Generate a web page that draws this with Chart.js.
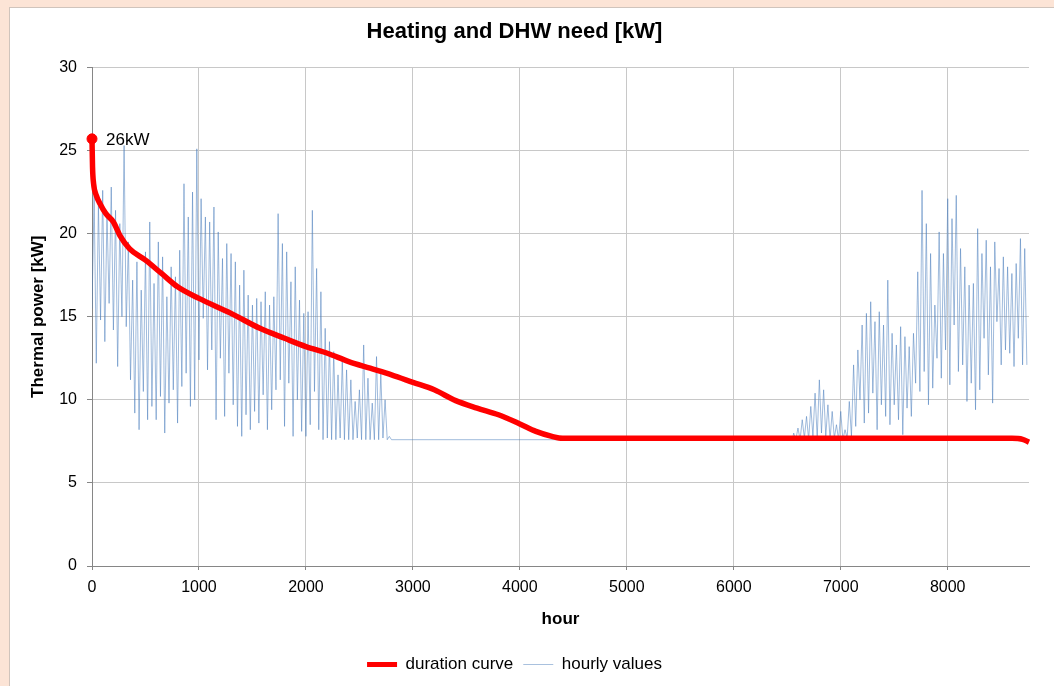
<!DOCTYPE html>
<html>
<head>
<meta charset="UTF-8">
<title>Heating and DHW need</title>
<script src="https://cdn.jsdelivr.net/npm/chart.js@4.4.7/dist/chart.umd.min.js"></script>
<style>
*{margin:0;padding:0;box-sizing:border-box}
html,body{width:1054px;height:686px;overflow:hidden;background:#fce4d6}
.panel{position:absolute;left:9px;top:7px;right:-2px;bottom:-2px;background:#fff;border-left:1px solid #d0c4bc;border-top:1px solid #d0c4bc}
#ch{position:absolute;left:0;top:0}
</style>
</head>
<body>
<div class="panel"></div>
<canvas id="ch" width="1054" height="686"></canvas>
<script>
// duration curve (sorted hourly need)
var durationHours = [0, 5, 15, 40, 75, 130, 200, 260, 350, 500, 650, 800, 1000, 1300, 1570, 1800, 2000, 2200, 2400, 2600, 2800, 3000, 3200, 3400, 3600, 3800, 4000, 4150, 4300, 4400, 8600, 8700, 8760];
var durationKw    = [25.7, 24.0, 23.0, 22.3, 21.8, 21.2, 20.7, 19.9, 19.1, 18.4, 17.6, 16.8, 16.1, 15.2, 14.3, 13.7, 13.2, 12.8, 12.3, 11.9, 11.5, 11.05, 10.6, 9.95, 9.5, 9.1, 8.55, 8.1, 7.8, 7.68, 7.68, 7.62, 7.45];

// hourly values (peaks / troughs)
var hourlyHours = [
  0, 20, 40, 60, 80, 100, 120, 140, 160, 180, 200, 220, 240, 260, 280, 300, 320, 340, 360, 380,
  400, 420, 440, 460, 480, 500, 520, 540, 560, 580, 600, 620, 640, 660, 680, 700, 720, 740, 760, 780,
  800, 820, 840, 860, 880, 900, 920, 940, 960, 980, 1000,
  1020, 1040, 1060, 1080, 1100, 1120, 1140, 1160, 1180, 1200, 1220, 1240, 1260, 1280, 1300, 1320, 1340, 1360, 1380, 1400,
  1420, 1440, 1460, 1480, 1500, 1520, 1540, 1560, 1580, 1600, 1620, 1640, 1660, 1680, 1700, 1720, 1740, 1760, 1780, 1800,
  1820, 1840, 1860, 1880, 1900, 1920, 1940, 1960, 1980, 2000,
  2020, 2040, 2060, 2080, 2100, 2120, 2140, 2160, 2180, 2200, 2220, 2240, 2260, 2280, 2300, 2320, 2340, 2360, 2380, 2400,
  2420, 2440, 2460, 2480, 2500, 2520, 2540, 2560, 2580, 2600, 2620, 2640, 2660, 2680, 2700, 2720, 2740, 2760, 2780, 2800,
  3150, 6550,
  6560, 6580, 6600, 6620, 6640, 6660, 6680, 6700, 6720, 6740, 6760, 6780, 6800, 6820, 6840, 6860, 6880, 6900, 6920, 6940,
  6960, 6980, 7000, 7020, 7040, 7060, 7080, 7100, 7120, 7140, 7160, 7180, 7200, 7220, 7240, 7260, 7280, 7300, 7320, 7340,
  7360, 7380, 7400, 7420, 7440, 7460, 7480, 7500, 7520, 7540, 7560, 7580, 7600, 7620, 7640, 7660, 7680, 7700, 7720, 7740,
  7760, 7780, 7800, 7820, 7840, 7860, 7880, 7900, 7920, 7940, 7960, 7980, 8000, 8020, 8040, 8060, 8080, 8100, 8120, 8140,
  8160, 8180, 8200, 8220, 8240, 8260, 8280, 8300, 8320, 8340, 8360, 8380, 8400, 8420, 8440, 8460, 8480, 8500, 8520, 8540,
  8560, 8580, 8600, 8620, 8640, 8660, 8680, 8700, 8720, 8740
];
var hourlyKw = [
  15.5, 22.3, 12.2, 21.8, 14.8, 22.6, 13.5, 21.2, 15.8, 22.8, 14.2, 21.4, 12.0, 20.6, 15.0, 25.3, 14.4, 19.5, 11.2, 17.2,
  9.2, 18.3, 8.2, 16.6, 10.5, 18.9, 8.8, 20.7, 9.6, 17.0, 8.8, 19.5, 10.2, 18.6, 8.0, 16.2, 9.8, 18.0, 10.6, 17.4,
  8.6, 19.0, 10.8, 23.0, 11.6, 21.0, 9.6, 22.5, 10.0, 25.1, 12.4,
  22.1, 14.9, 21.0, 11.8, 20.7, 13.0, 21.6, 8.8, 20.1, 12.5, 18.5, 9.0, 19.4, 11.6, 18.8, 9.7, 18.3, 8.4, 16.9, 7.8,
  17.8, 9.1, 16.3, 8.2, 15.7, 9.3, 16.1, 8.6, 15.9, 10.3, 16.5, 8.2, 15.7, 9.4, 16.2, 10.6, 21.2, 11.2, 19.4, 8.4,
  18.9, 11.0, 17.1, 7.8, 18.0, 10.0, 16.0, 8.1, 15.2, 7.8,
  15.3, 8.5, 21.4, 10.5, 17.9, 8.2, 16.5, 7.6, 14.3, 7.7, 13.5, 7.6, 12.9, 7.6, 11.5, 7.7, 12.4, 7.6, 11.8, 7.6,
  11.2, 7.6, 9.9, 7.7, 10.6, 7.6, 13.3, 7.6, 11.3, 7.6, 9.8, 7.6, 12.6, 7.6, 11.6, 7.7, 10.0, 7.6, 7.8, 7.6,
  7.6, 7.6,
  8.0, 7.6, 8.3, 7.6, 8.8, 7.7, 9.0, 7.6, 9.6, 7.8, 10.4, 7.7, 11.2, 8.0, 10.6, 7.8, 9.7, 7.6, 9.3, 7.7,
  8.5, 7.6, 9.3, 7.6, 8.2, 7.7, 9.9, 7.8, 12.1, 8.4, 13.0, 10.0, 14.5, 8.6, 15.2, 9.2, 15.9, 10.4, 14.7, 8.2,
  15.3, 9.7, 14.5, 9.0, 17.2, 8.5, 14.0, 9.7, 13.3, 8.8, 14.4, 7.9, 13.8, 9.5, 13.2, 9.0, 14.0, 11.0, 17.7, 10.5,
  22.6, 11.7, 20.6, 9.7, 18.8, 10.7, 15.7, 12.5, 20.1, 11.3, 18.8, 13.0, 22.1, 10.9, 20.9, 14.5, 22.3, 11.7, 19.1, 12.1,
  18.0, 9.9, 16.9, 11.0, 17.0, 9.4, 20.3, 10.6, 18.8, 13.7, 19.6, 11.5, 18.0, 9.8, 19.5, 14.7, 17.9, 12.1, 18.6, 13.0,
  18.0, 12.8, 17.6, 12.0, 18.2, 13.7, 19.7, 12.1, 19.1, 12.1
];

var yTicks = [0, 5, 10, 15, 20, 25, 30];
var xTicks = [0, 1000, 2000, 3000, 4000, 5000, 6000, 7000, 8000];
var peakLabel = '26kW';

function pts(xs, ys) {
  return xs.map(function(h, i) { return { x: h, y: ys[i] }; });
}

var FONT = "'Liberation Sans', Arial, sans-serif";

var labelPlugin = {
  id: 'peakLabel',
  afterDatasetsDraw: function(chart) {
    var p = chart.getDatasetMeta(0).data[0];
    var ctx = chart.ctx;
    ctx.save();
    ctx.fillStyle = '#000';
    ctx.font = '17px ' + FONT;
    ctx.textBaseline = 'middle';
    ctx.fillText(peakLabel, p.x + 14, p.y + 1);
    ctx.restore();
  }
};

new Chart(document.getElementById('ch'), {
  type: 'line',
  data: {
    datasets: [{
      label: 'duration curve',
      data: pts(durationHours, durationKw),
      borderColor: '#ff0000',
      backgroundColor: '#ff0000',
      borderWidth: 5.5,
      cubicInterpolationMode: 'monotone',
      clip: false,
      pointRadius: function(c) { return c.dataIndex === 0 ? 5 : 0; },
      pointBackgroundColor: '#ff0000',
      pointBorderColor: '#ff0000',
      pointBorderWidth: 1
    }, {
      label: 'hourly values',
      data: pts(hourlyHours, hourlyKw),
      borderColor: 'rgba(79,129,189,0.6)',
      backgroundColor: 'rgba(79,129,189,0.6)',
      borderWidth: 0.9,
      pointRadius: 0,
      tension: 0
    }]
  },
  options: {
    responsive: false,
    animation: false,
    parsing: false,
    layout: { padding: { top: 9, left: 0, right: 25, bottom: 3 } },
    plugins: {
      title: {
        display: true,
        text: 'Heating and DHW need [kW]',
        color: '#000',
        font: { family: FONT, size: 22, weight: 'bold' },
        padding: { top: 10, bottom: 22 }
      },
      legend: {
        position: 'bottom',
        labels: {
          color: '#000',
          font: { family: FONT, size: 17 },
          usePointStyle: true,
          pointStyle: 'line',
          pointStyleWidth: 30,
          padding: 10,
          generateLabels: function(chart) {
            var items = Chart.defaults.plugins.legend.labels.generateLabels(chart);
            items[0].lineWidth = 5; items[0].strokeStyle = '#ff0000';
            items[1].lineWidth = 1; items[1].strokeStyle = '#a9c1de';
            return items;
          }
        }
      },
      tooltip: { enabled: false }
    },
    scales: {
      x: {
        type: 'linear',
        min: 0,
        max: 8760,
        afterFit: function(s) { s.height = 80; },
        afterBuildTicks: function(s) { s.ticks = xTicks.map(function(v) { return { value: v }; }); },
        ticks: {
          color: '#000', font: { family: FONT, size: 16 }, padding: 8, includeBounds: false, maxRotation: 0,
          callback: function(v) { return String(v); }
        },
        grid: { color: '#c8c8c8', tickLength: 4, tickColor: '#868686' },
        border: { color: '#868686' },
        title: { display: true, text: 'hour', color: '#000', font: { family: FONT, size: 17, weight: 'bold' }, padding: { top: 0, bottom: 16 } }
      },
      y: {
        min: 0,
        max: 30,
        afterFit: function(s) { s.width = 92; },
        afterBuildTicks: function(s) { s.ticks = yTicks.map(function(v) { return { value: v }; }); },
        ticks: { color: '#000', font: { family: FONT, size: 16 }, padding: 10 },
        grid: { color: '#c8c8c8', tickLength: 5, tickColor: '#868686' },
        border: { color: '#868686' },
        title: { display: true, text: 'Thermal power [kW]', color: '#000', font: { family: FONT, size: 17, weight: 'bold' }, padding: { top: 28, bottom: 0 } }
      }
    }
  },
  plugins: [labelPlugin]
});
</script>
</body>
</html>
